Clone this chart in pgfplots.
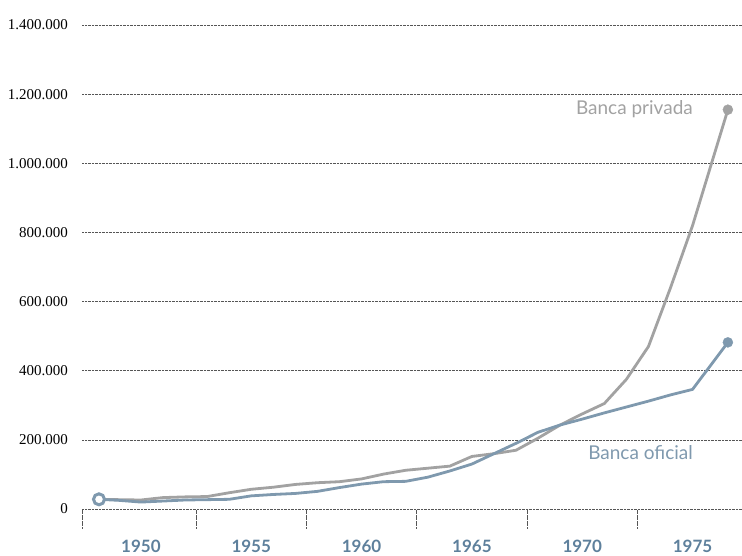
\documentclass[border=0pt]{standalone}
\usepackage{fontspec}
\setmainfont{Liberation Serif}
\newfontfamily\latofont{Lato}
\usepackage{pgfplots}
\pgfplotsset{compat=1.18}
\definecolor{privada}{HTML}{A2A2A2}
\definecolor{oficial}{HTML}{7F99AE}
\definecolor{yearcol}{HTML}{5E809C}
\definecolor{gridcol}{HTML}{555555}

\pgfplotstableread{
year value
1948.1 28000
1949 27000
1950 26000
1951 33000
1952 35000
1953 36000
1954 47000
1955 57000
1956 63000
1957 71000
1958 76000
1959 79000
1960 87000
1961 101000
1962 112000
1963 118000
1964 124000
1965 152000
1966 160000
1967 170000
1968 205000
1969 243000
1970 275000
1971 305000
1972 375000
1973 470000
1974 640000
1975 820000
1976.6 1155000
}\privada

\pgfplotstableread{
year value
1948.1 28000
1949 25000
1950 20000
1951 23000
1952 26000
1953 27000
1954 28000
1955 38000
1956 42000
1957 45000
1958 51000
1959 62000
1960 72000
1961 79000
1962 80000
1963 92000
1964 110000
1965 130000
1966 160000
1967 190000
1968 222000
1969 243000
1970 260000
1971 278000
1972 295000
1973 312000
1974 330000
1975 346000
1976.6 482000
}\oficial

\begin{document}
\begin{tikzpicture}[x=1pt,y=1pt]
\path[use as bounding box] (0,0) rectangle (742,556);
\begin{axis}[
  at={(82pt,47pt)}, anchor=south west,
  scale only axis, width=660pt, height=484pt,
  xmin=1947.33, xmax=1977.24,
  ymin=0, ymax=1400000,
  clip=false,
  axis line style={draw=none},
  tick pos=left,
  xtick={1950,1955,...,1975},
  xticklabels={1950,1955,1960,1965,1970,1975},
  minor xtick={1947.33,1952.5,1957.5,1962.5,1967.5,1972.5},
  major tick length=0pt,
  minor tick length=19pt,
  tick align=outside,
  minor tick style={gridcol, densely dotted, line width=0.7pt},
  xticklabel style={anchor=base, inner sep=0pt, yshift=-44pt, font=\latofont\bfseries\fontsize{17}{19}\selectfont, text=yearcol},
  ytick={0,200000,...,1400000},
  yticklabels={0,200.000,400.000,600.000,800.000,1.000.000,1.200.000,1.400.000},
  yticklabel style={anchor=east, inner sep=0pt, xshift=-14pt, font=\fontsize{15}{17}\selectfont, text=black},
  ymajorgrids,
  major grid style={gridcol, densely dotted, line width=0.7pt},
  scaled y ticks=false,
]
\addplot[privada, line width=2.8pt, line join=round] table[x=year,y=value]{\privada};
\addplot[oficial, line width=2.8pt, line join=round] table[x=year,y=value]{\oficial};
\addplot[only marks, mark=*, mark size=5pt, mark options={fill=privada, draw=privada}] coordinates {(1976.6,1155000)};
\addplot[only marks, mark=*, mark size=5pt, mark options={fill=oficial, draw=oficial}] coordinates {(1976.6,482000)};
\addplot[only marks, mark=*, mark size=5.5pt, mark options={fill=white, draw=oficial, line width=3pt}] coordinates {(1948.1,28000)};
\node[anchor=base east, text=privada, font=\latofont\fontsize{19}{21}\selectfont, inner sep=0pt] at (axis cs:1975.02,1140000) {Banca privada};
\node[anchor=base east, text=oficial, font=\latofont\fontsize{19}{21}\selectfont, inner sep=0pt] at (axis cs:1975.02,144000) {Banca oficial};
\end{axis}
\end{tikzpicture}
\end{document}
